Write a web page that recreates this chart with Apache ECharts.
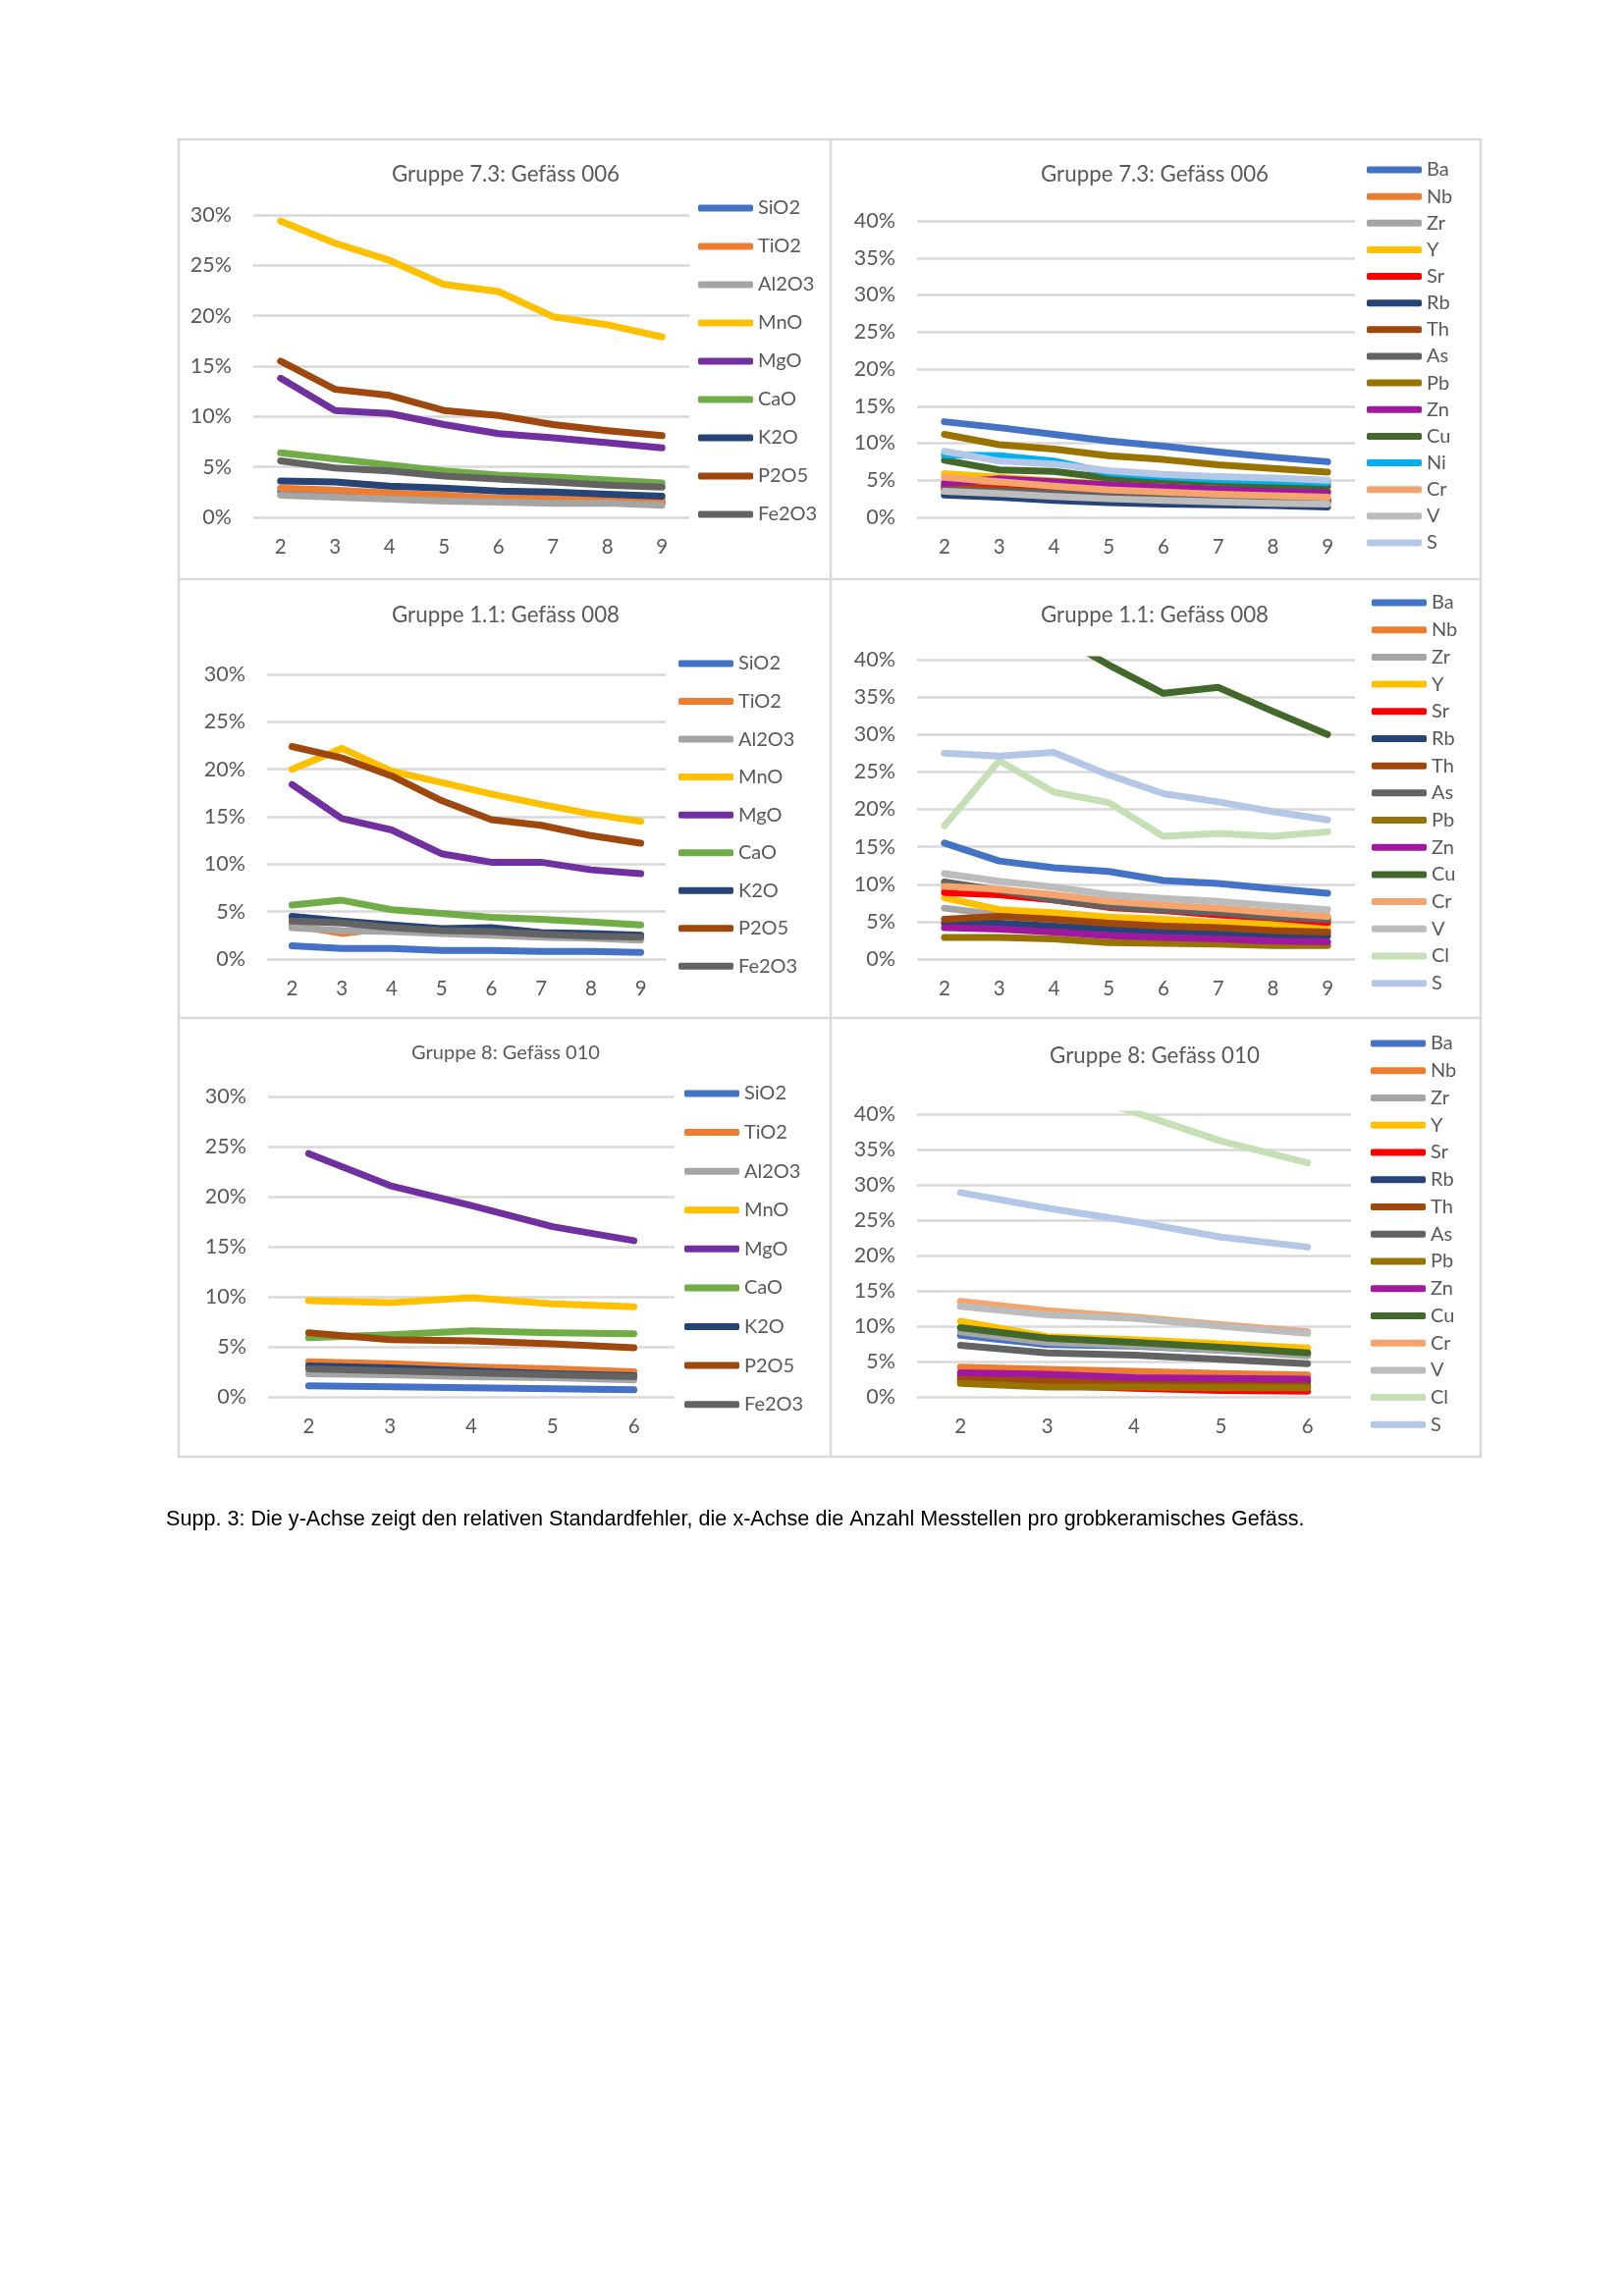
<!DOCTYPE html>
<html><head><meta charset="utf-8">
<script src="https://cdn.jsdelivr.net/npm/echarts@6/dist/echarts.min.js"></script>
<style>html,body{margin:0;padding:0;background:#fff}#c{width:1654px;height:2339px}</style>
</head><body><div id="c"></div>
<script>
// ---------- DATA ----------
const cats9 = ['2','3','4','5','6','7','8','9'];
const cats5 = ['2','3','4','5','6'];
const oxideNames = ['SiO2','TiO2','Al2O3','MnO','MgO','CaO','K2O','P2O5','Fe2O3'];
const elemNames006 = ['Ba','Nb','Zr','Y','Sr','Rb','Th','As','Pb','Zn','Cu','Ni','Cr','V','S'];
const elemNamesCl = ['Ba','Nb','Zr','Y','Sr','Rb','Th','As','Pb','Zn','Cu','Cr','V','Cl','S'];
const titles = ['Gruppe 7.3: Gefäss 006','Gruppe 7.3: Gefäss 006','Gruppe 1.1: Gefäss 008','Gruppe 1.1: Gefäss 008','Gruppe 8: Gefäss 010','Gruppe 8: Gefäss 010'];
const caption = 'Supp. 3: Die y-Achse zeigt den relativen Standardfehler, die x-Achse die Anzahl Messtellen pro grobkeramisches Gefäss.';

// Panel 1: Gruppe 7.3 Gefäss 006, oxides
const p1_SiO2  = [2.55, 2.35, 2.1, 1.9, 1.7, 1.65, 1.6, 1.45];
const p1_TiO2  = [2.9, 2.7, 2.4, 2.2, 1.9, 1.9, 1.8, 1.7];
const p1_Al2O3 = [2.2, 2.0, 1.8, 1.6, 1.5, 1.4, 1.4, 1.2];
const p1_MnO   = [29.4, 27.2, 25.5, 23.1, 22.4, 19.9, 19.1, 17.9];
const p1_MgO   = [13.8, 10.6, 10.3, 9.2, 8.3, 7.9, 7.4, 6.9];
const p1_CaO   = [6.4, 5.8, 5.2, 4.6, 4.2, 4.0, 3.7, 3.4];
const p1_K2O   = [3.6, 3.5, 3.1, 2.9, 2.6, 2.5, 2.3, 2.1];
const p1_P2O5  = [15.5, 12.7, 12.1, 10.6, 10.1, 9.2, 8.6, 8.1];
const p1_Fe2O3 = [5.6, 4.9, 4.6, 4.1, 3.8, 3.5, 3.2, 3.0];

// Panel 2: Gruppe 7.3 Gefäss 006, elements
const p2_Ba = [12.9, 12.1, 11.2, 10.3, 9.6, 8.8, 8.1, 7.5];
const p2_Nb = [4.4, 4.0, 3.6, 3.2, 2.9, 2.7, 2.5, 2.4];
const p2_Zr = [3.8, 3.4, 3.0, 2.7, 2.5, 2.3, 2.1, 2.0];
const p2_Y  = [5.9, 5.4, 4.9, 4.5, 4.1, 3.8, 3.6, 3.4];
const p2_Sr = [4.2, 3.8, 3.4, 3.1, 2.9, 2.7, 2.5, 2.4];
const p2_Rb = [3.0, 2.7, 2.3, 2.0, 1.8, 1.7, 1.6, 1.4];
const p2_Th = [4.0, 3.7, 3.3, 3.0, 2.8, 2.6, 2.4, 2.3];
const p2_As = [3.7, 3.5, 3.2, 2.8, 2.6, 2.4, 2.2, 2.1];
const p2_Pb = [11.2, 9.8, 9.2, 8.3, 7.8, 7.1, 6.6, 6.1];
const p2_Zn = [4.6, 5.2, 4.8, 4.4, 4.1, 3.8, 3.6, 3.4];
const p2_Cu = [7.7, 6.4, 6.2, 5.3, 5.0, 4.7, 4.4, 4.2];
const p2_Ni = [8.4, 8.3, 7.6, 6.0, 5.5, 5.1, 4.9, 4.7];
const p2_Cr = [5.4, 4.8, 4.2, 3.7, 3.4, 3.1, 2.9, 2.7];
const p2_V  = [3.5, 3.2, 2.8, 2.5, 2.3, 2.1, 1.9, 1.8];
const p2_S  = [8.9, 7.6, 7.2, 6.3, 5.8, 5.5, 5.3, 5.0];

// Panel 3: Gruppe 1.1 Gefäss 008, oxides
const p3_SiO2  = [1.4, 1.1, 1.1, 0.9, 0.9, 0.8, 0.8, 0.7];
const p3_TiO2  = [3.6, 2.7, 3.3, 2.9, 2.7, 2.5, 2.3, 2.1];
const p3_Al2O3 = [3.3, 3.0, 2.9, 2.7, 2.5, 2.3, 2.2, 2.0];
const p3_MnO   = [20.0, 22.2, 19.8, 18.6, 17.4, 16.3, 15.3, 14.5];
const p3_MgO   = [18.4, 14.8, 13.6, 11.1, 10.2, 10.2, 9.4, 9.0];
const p3_CaO   = [5.7, 6.2, 5.2, 4.8, 4.4, 4.2, 3.9, 3.6];
const p3_K2O   = [4.5, 4.0, 3.6, 3.2, 3.3, 2.8, 2.7, 2.5];
const p3_P2O5  = [22.4, 21.2, 19.3, 16.7, 14.7, 14.1, 13.0, 12.2];
const p3_Fe2O3 = [4.0, 3.8, 3.3, 3.0, 2.9, 2.6, 2.4, 2.3];

// Panel 4: Gruppe 1.1 Gefäss 008, elements
const p4_Ba = [15.5, 13.1, 12.2, 11.7, 10.5, 10.1, 9.4, 8.8];
const p4_Nb = [9.6, 9.2, 8.5, 7.6, 7.1, 6.7, 6.1, 5.6];
const p4_Zr = [6.8, 5.9, 5.5, 5.0, 4.7, 4.4, 4.1, 3.9];
const p4_Y  = [8.2, 6.6, 6.2, 5.6, 5.3, 4.9, 4.7, 4.4];
const p4_Sr = [8.9, 8.6, 7.9, 6.9, 6.5, 5.9, 5.5, 4.9];
const p4_Rb = [4.8, 4.8, 4.4, 4.0, 3.6, 3.4, 3.2, 3.1];
const p4_Th = [5.3, 5.7, 5.3, 4.8, 4.4, 4.2, 3.8, 3.6];
const p4_As = [10.3, 9.2, 7.9, 7.0, 6.6, 6.2, 5.6, 5.3];
const p4_Pb = [2.9, 2.9, 2.7, 2.2, 2.1, 2.0, 1.8, 1.8];
const p4_Zn = [4.2, 4.0, 3.6, 3.1, 2.9, 2.7, 2.4, 2.3];
const p4_Cu = [46.0, 44.5, 43.5, 39.3, 35.5, 36.3, 33.1, 30.0];
const p4_Cr = [9.7, 9.3, 8.6, 7.7, 7.2, 6.8, 6.2, 5.7];
const p4_V  = [11.4, 10.4, 9.6, 8.6, 8.1, 7.7, 7.1, 6.6];
const p4_Cl = [17.8, 26.5, 22.3, 20.9, 16.4, 16.8, 16.4, 17.0];
const p4_S  = [27.5, 27.1, 27.6, 24.6, 22.1, 21.0, 19.7, 18.6];

// Panel 5: Gruppe 8 Gefäss 010, oxides
const p5_SiO2  = [1.1, 1.0, 0.9, 0.8, 0.7];
const p5_TiO2  = [3.5, 3.3, 3.0, 2.8, 2.5];
const p5_Al2O3 = [2.3, 2.2, 2.0, 1.9, 1.7];
const p5_MnO   = [9.6, 9.4, 9.9, 9.3, 9.0];
const p5_MgO   = [24.3, 21.1, 19.1, 17.0, 15.6];
const p5_CaO   = [5.9, 6.2, 6.6, 6.4, 6.3];
const p5_K2O   = [3.1, 2.9, 2.6, 2.3, 2.1];
const p5_P2O5  = [6.4, 5.7, 5.6, 5.3, 4.9];
const p5_Fe2O3 = [2.8, 2.6, 2.4, 2.2, 2.0];

// Panel 6: Gruppe 8 Gefäss 010, elements
const p6_Ba = [8.7, 7.4, 7.2, 6.6, 6.1];
const p6_Nb = [4.2, 3.9, 3.6, 3.3, 3.1];
const p6_Zr = [9.2, 7.7, 7.3, 6.6, 5.8];
const p6_Y  = [10.7, 8.5, 8.1, 7.5, 6.9];
const p6_Sr = [2.2, 1.6, 1.2, 0.9, 0.8];
const p6_Rb = [3.0, 2.6, 2.6, 2.4, 2.2];
const p6_Th = [2.5, 2.3, 1.9, 1.8, 1.6];
const p6_As = [7.3, 6.2, 5.9, 5.3, 4.7];
const p6_Pb = [1.9, 1.4, 1.4, 1.3, 1.3];
const p6_Zn = [3.4, 3.2, 2.7, 2.6, 2.5];
const p6_Cu = [9.8, 8.3, 7.7, 7.0, 6.2];
const p6_Cr = [13.5, 12.2, 11.3, 10.2, 9.2];
const p6_V  = [12.8, 11.6, 11.1, 10.0, 9.0];
const p6_Cl = [48.0, 44.0, 40.3, 36.2, 33.1];
const p6_S  = [28.9, 26.7, 24.8, 22.6, 21.2];

// ---------- STYLE ----------
const colors = {
  SiO2:'#4472C4', TiO2:'#ED7D31', Al2O3:'#A5A5A5', MnO:'#FFC000', MgO:'#7030A0',
  CaO:'#70AD47', K2O:'#264478', P2O5:'#9E480E', Fe2O3:'#636363',
  Ba:'#4472C4', Nb:'#ED7D31', Zr:'#A5A5A5', Y:'#FFC000', Sr:'#FF0000', Rb:'#264478',
  Th:'#9E480E', As:'#636363', Pb:'#997300', Zn:'#A0189E', Cu:'#43682B', Ni:'#00B0F0',
  Cr:'#F4A46C', V:'#BCBCBC', Cl:'#C5E0B4', S:'#B4C7E7'
};
const FONT = 'Lato';
const TXT = '#595959';

const panels = [
  {cats:cats9, max:30, names:oxideNames, data:[p1_SiO2,p1_TiO2,p1_Al2O3,p1_MnO,p1_MgO,p1_CaO,p1_K2O,p1_P2O5,p1_Fe2O3],
   grid:{left:258,top:219,width:444,height:308}, leg:{left:711,top:202,gap:19}, tpos:[515,178], tsize:22.3},
  {cats:cats9, max:40, names:elemNames006, data:[p2_Ba,p2_Nb,p2_Zr,p2_Y,p2_Sr,p2_Rb,p2_Th,p2_As,p2_Pb,p2_Zn,p2_Cu,p2_Ni,p2_Cr,p2_V,p2_S],
   grid:{left:934,top:225,width:446,height:302}, leg:{left:1392,top:163,gap:7.14}, tpos:[1176,178], tsize:22.3},
  {cats:cats9, max:30, names:oxideNames, data:[p3_SiO2,p3_TiO2,p3_Al2O3,p3_MnO,p3_MgO,p3_CaO,p3_K2O,p3_P2O5,p3_Fe2O3],
   grid:{left:272,top:687,width:406,height:290}, leg:{left:691,top:666,gap:18.54}, tpos:[515,627], tsize:22.3},
  {cats:cats9, max:40, names:elemNamesCl, data:[p4_Ba,p4_Nb,p4_Zr,p4_Y,p4_Sr,p4_Rb,p4_Th,p4_As,p4_Pb,p4_Zn,p4_Cu,p4_Cr,p4_V,p4_Cl,p4_S],
   grid:{left:934,top:672,width:446,height:305}, leg:{left:1397,top:604,gap:7.69}, tpos:[1176,627], tsize:22.3},
  {cats:cats5, max:30, names:oxideNames, data:[p5_SiO2,p5_TiO2,p5_Al2O3,p5_MnO,p5_MgO,p5_CaO,p5_K2O,p5_P2O5,p5_Fe2O3],
   grid:{left:273,top:1117,width:414,height:306}, leg:{left:697,top:1104,gap:19.58}, tpos:[515,1073], tsize:20},
  {cats:cats5, max:40, names:elemNamesCl, data:[p6_Ba,p6_Nb,p6_Zr,p6_Y,p6_Sr,p6_Rb,p6_Th,p6_As,p6_Pb,p6_Zn,p6_Cu,p6_Cr,p6_V,p6_Cl,p6_S],
   grid:{left:934,top:1135,width:442,height:288}, leg:{left:1396,top:1053,gap:7.74}, tpos:[1176,1076], tsize:22.3}
];

const grids = [], xAxes = [], yAxes = [], series = [], legends = [], graphics = [];
panels.forEach((p, i) => {
  grids.push(Object.assign({containLabel:false}, p.grid));
  xAxes.push({type:'category', gridIndex:i, data:p.cats, boundaryGap:true,
    axisLine:{show:false}, axisTick:{show:false}, splitLine:{show:false},
    axisLabel:{fontFamily:FONT, fontSize:20.5, color:TXT, margin:20}});
  yAxes.push({type:'value', gridIndex:i, min:0, max:p.max, interval:5,
    axisLine:{show:false}, axisTick:{show:false},
    splitLine:{show:true, lineStyle:{color:'#D9D9D9', width:2.5}},
    axisLabel:{formatter:'{value}%', fontFamily:FONT, fontSize:21.5, color:TXT, margin:22}});
  p.names.forEach((n, j) => {
    series.push({type:'line', name:n, xAxisIndex:i, yAxisIndex:i, data:p.data[j],
      symbol:'none', showSymbol:false, clip:true, silent:true, color:colors[n],
      itemStyle:{color:colors[n]},
      lineStyle:{color:colors[n], width:7, cap:'round', join:'round'}});
  });
  legends.push({orient:'vertical', left:p.leg.left, top:p.leg.top, itemGap:p.leg.gap,
    itemWidth:56, itemHeight:7, icon:'roundRect', padding:0, selectedMode:false,
    itemStyle:{borderWidth:0}, data:p.names,
    textStyle:{fontFamily:FONT, fontSize:20, color:TXT, lineHeight:20}});
  graphics.push({type:'text', x:p.tpos[0], y:p.tpos[1], silent:true,
    style:{text:titles[i], fontFamily:FONT, fontSize:p.tsize, fill:TXT,
      align:'center', textAlign:'center', verticalAlign:'middle', textVerticalAlign:'middle'}});
});

// panel frames
const FR = {stroke:'#D9D9D9', lineWidth:2.5};
graphics.push({type:'rect', silent:true, shape:{x:182, y:142, width:1326, height:1342}, style:Object.assign({fill:'none'}, FR)});
graphics.push({type:'line', silent:true, shape:{x1:846, y1:142, x2:846, y2:1484}, style:FR});
graphics.push({type:'line', silent:true, shape:{x1:182, y1:590, x2:1508, y2:590}, style:FR});
graphics.push({type:'line', silent:true, shape:{x1:182, y1:1037, x2:1508, y2:1037}, style:FR});
graphics.push({type:'text', x:169, y:1548, silent:true,
  style:{text:caption, fontFamily:'"Liberation Sans", Arial', fontSize:21.6, fill:'#000',
    verticalAlign:'middle', textVerticalAlign:'middle'}});

const chart = echarts.init(document.getElementById('c'), null, {renderer:'canvas', width:1654, height:2339});
chart.setOption({
  animation:false, backgroundColor:'#FFFFFF',
  grid:grids, xAxis:xAxes, yAxis:yAxes, series:series, legend:legends, graphic:graphics
});
</script></body></html>
